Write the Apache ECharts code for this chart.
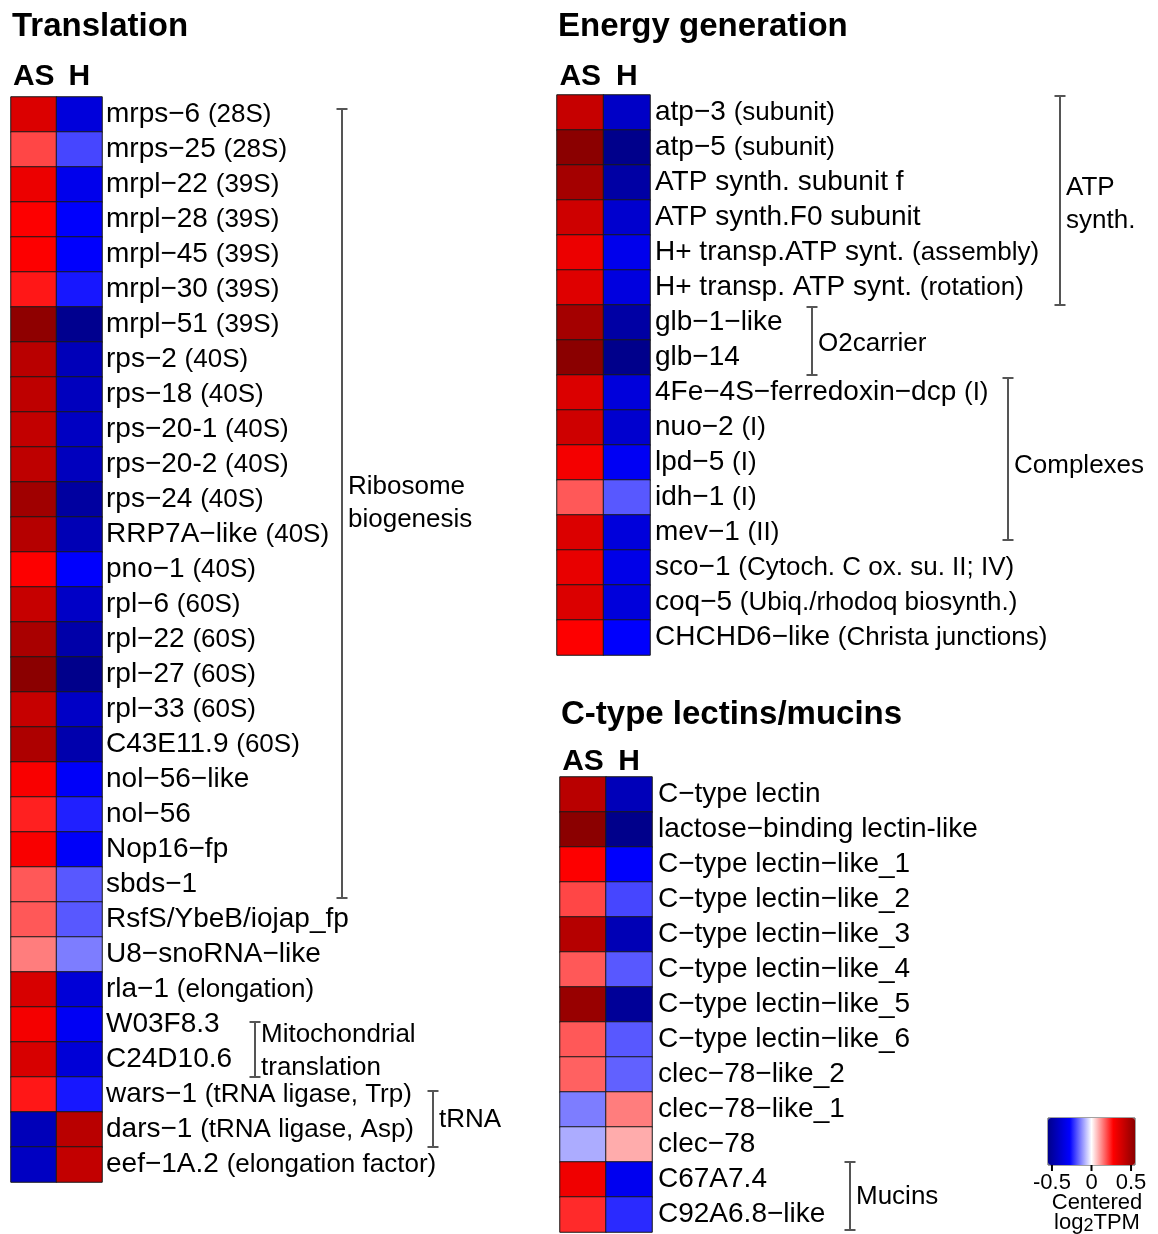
<!DOCTYPE html>
<html>
<head>
<meta charset="utf-8">
<script src="https://cdn.jsdelivr.net/npm/echarts@6/dist/echarts.min.js"></script>
<style>
  html, body { margin: 0; padding: 0; background: #fff; }
  #main { width: 1158px; height: 1234px; }
</style>
</head>
<body>
<div id="main"></div>
<script>
// columns of every heatmap
var samples = ['AS', 'H'];

// Translation
var transGenes = ['mrps\u22126 (28S)', 'mrps\u221225 (28S)', 'mrpl\u221222 (39S)', 'mrpl\u221228 (39S)', 'mrpl\u221245 (39S)',
	'mrpl\u221230 (39S)', 'mrpl\u221251 (39S)', 'rps\u22122 (40S)', 'rps\u221218 (40S)', 'rps\u221220-1 (40S)',
	'rps\u221220-2 (40S)', 'rps\u221224 (40S)', 'RRP7A\u2212like (40S)', 'pno\u22121 (40S)', 'rpl\u22126 (60S)',
	'rpl\u221222 (60S)', 'rpl\u221227 (60S)', 'rpl\u221233 (60S)', 'C43E11.9 (60S)', 'nol\u221256\u2212like',
	'nol\u221256', 'Nop16\u2212fp', 'sbds\u22121', 'RsfS/YbeB/iojap_fp', 'U8\u2212snoRNA\u2212like',
	'rla\u22121 (elongation)', 'W03F8.3', 'C24D10.6', 'wars\u22121 (tRNA ligase, Trp)', 'dars\u22121 (tRNA ligase, Asp)',
	'eef\u22121A.2 (elongation factor)'];
var transAS = [0.36, 0.20, 0.32, 0.28, 0.28, 0.25, 0.54, 0.44, 0.43, 0.42,
	0.43, 0.50, 0.45, 0.28, 0.41, 0.48, 0.55, 0.41, 0.47, 0.29,
	0.24, 0.29, 0.18, 0.18, 0.14, 0.37, 0.30, 0.37, 0.25, -0.44, -0.42];
var transH = [-0.36, -0.20, -0.32, -0.28, -0.28, -0.25, -0.54, -0.44, -0.43, -0.42,
	-0.43, -0.50, -0.45, -0.28, -0.41, -0.48, -0.55, -0.41, -0.47, -0.29,
	-0.24, -0.29, -0.18, -0.18, -0.14, -0.37, -0.30, -0.37, -0.25, 0.44, 0.42];

// Energy generation
var energyGenes = ['atp\u22123 (subunit)', 'atp\u22125 (subunit)', 'ATP synth. subunit f', 'ATP synth.F0 subunit',
	'H+ transp.ATP synt. (assembly)', 'H+ transp. ATP synt. (rotation)', 'glb\u22121\u2212like', 'glb\u221214',
	'4Fe\u22124S\u2212ferredoxin\u2212dcp (I)', 'nuo\u22122 (I)', 'lpd\u22125 (I)', 'idh\u22121 (I)', 'mev\u22121 (II)',
	'sco\u22121 (Cytoch. C ox. su. II; IV)', 'coq\u22125 (Ubiq./rhodoq biosynth.)', 'CHCHD6\u2212like (Christa junctions)'];
var energyAS = [0.41, 0.55, 0.49, 0.39, 0.32, 0.35, 0.49, 0.55, 0.36, 0.39, 0.30, 0.18, 0.36, 0.33, 0.36, 0.28];
var energyH = [-0.41, -0.55, -0.49, -0.39, -0.32, -0.35, -0.49, -0.55, -0.36, -0.39, -0.30, -0.18, -0.36, -0.33, -0.36, -0.28];

// C-type lectins/mucins
var lectinGenes = ['C\u2212type lectin', 'lactose\u2212binding lectin-like', 'C\u2212type lectin\u2212like_1',
	'C\u2212type lectin\u2212like_2', 'C\u2212type lectin\u2212like_3', 'C\u2212type lectin\u2212like_4',
	'C\u2212type lectin\u2212like_5', 'C\u2212type lectin\u2212like_6', 'clec\u221278\u2212like_2',
	'clec\u221278\u2212like_1', 'clec\u221278', 'C67A7.4', 'C92A6.8\u2212like'];
var lectinAS = [0.44, 0.55, 0.28, 0.20, 0.45, 0.18, 0.52, 0.18, 0.17, -0.14, -0.09, 0.31, 0.23];
var lectinH = [-0.44, -0.55, -0.28, -0.20, -0.45, -0.18, -0.52, -0.18, -0.17, 0.14, 0.09, -0.31, -0.23];

// gene groups: panel, first row, last row, label
var groups = [
	{ panel: 0, from: 0, to: 22, label: 'Ribosome\nbiogenesis', x: 342, padTop: 12, padBottom: 4, dy: 0 },
	{ panel: 0, from: 26, to: 27, label: 'Mitochondrial\ntranslation', x: 255, padTop: 15, padBottom: 0, dy: 2 },
	{ panel: 0, from: 28, to: 29, label: 'tRNA', x: 433, padTop: 14, padBottom: 0, dy: 1 },
	{ panel: 1, from: 0, to: 5, label: 'ATP\nsynth.', x: 1060, padTop: 1, padBottom: 0, dy: 4 },
	{ panel: 1, from: 6, to: 7, label: 'O2carrier', x: 812, padTop: 2, padBottom: 0, dy: 3 },
	{ panel: 1, from: 8, to: 12, label: 'Complexes', x: 1008, padTop: 3, padBottom: 10, dy: 7 },
	{ panel: 2, from: 11, to: 12, label: 'Mucins', x: 850, padTop: 0, padBottom: 2, dy: 1 }
];

var titles = ['Translation', 'Energy generation', 'C-type lectins/mucins'];
var scaleMin = -0.55, scaleMax = 0.55;
var legendTicks = [-0.5, 0, 0.5];
var rampColors = ['#00008b', '#0000ff', '#ffffff', '#ff0000', '#8b0000'];

var panels = [
	{ genes: transGenes, as: transAS, h: transH, left: 11, top: 97, width: 91, rowH: 35, titleX: 12, titleY: 10, headMargin: 5, labelMargin: 4 },
	{ genes: energyGenes, as: energyAS, h: energyH, left: 557, top: 95, width: 93, rowH: 35, titleX: 558, titleY: 10, headMargin: 3, labelMargin: 5 },
	{ genes: lectinGenes, as: lectinAS, h: lectinH, left: 560, top: 777, width: 92, rowH: 35, titleX: 561, titleY: 698, headMargin: 0, labelMargin: 6 }
];

function geneLabel(v) {
	var i = v.indexOf(' (');
	if (i < 0) return '{m|' + v + '}';
	return '{m|' + v.slice(0, i) + '} {p|' + v.slice(i + 1) + '}';
}

var myChart = echarts.init(document.getElementById('main'), null, { renderer: 'canvas' });

var grids = [], xAxes = [], yAxes = [], series = [], title = [];
panels.forEach(function (p, k) {
	grids.push({ left: p.left, top: p.top, width: p.width, height: p.rowH * p.genes.length, containLabel: false });
	title.push({
		text: titles[k], left: p.titleX, top: p.titleY, padding: 0,
		textStyle: { fontFamily: 'Liberation Sans', fontWeight: 'bold', fontSize: 33, color: '#000' }
	});
	xAxes.push({
		type: 'category', gridIndex: k, data: samples, position: 'top',
		axisLine: { show: false }, axisTick: { show: false }, splitLine: { show: false },
		axisLabel: { interval: 0, margin: p.headMargin, fontFamily: 'Liberation Sans', fontWeight: 'bold', fontSize: 30, color: '#000' }
	});
	yAxes.push({
		type: 'category', gridIndex: k, data: p.genes, position: 'right', inverse: true,
		axisLine: { show: false }, axisTick: { show: false }, splitLine: { show: false },
		axisLabel: {
			interval: 0, margin: p.labelMargin, fontFamily: 'Liberation Sans', fontSize: 28, color: '#000',
			formatter: geneLabel,
			rich: {
				m: { fontFamily: 'Liberation Sans', fontSize: 28, color: '#000' },
				p: { fontFamily: 'Liberation Sans', fontSize: 26, color: '#000' }
			}
		}
	});
	var data = [];
	p.genes.forEach(function (g, i) {
		data.push([0, i, p.as[i]]);
		data.push([1, i, p.h[i]]);
	});
	series.push({
		type: 'heatmap', xAxisIndex: k, yAxisIndex: k, data: data,
		itemStyle: { borderColor: '#1a1a1a', borderWidth: 1 },
		emphasis: { disabled: true }, silent: true
	});
});

// colour key geometry
var keyLeft = 1048, keyTop = 1118, keyLen = 87, keyThick = 47;

var option = {
	animation: false,
	backgroundColor: '#fff',
	title: title,
	grid: grids,
	xAxis: xAxes,
	yAxis: yAxes,
	visualMap: {
		type: 'continuous', min: scaleMin, max: scaleMax, seriesIndex: [0, 1, 2],
		orient: 'horizontal', left: keyLeft, top: keyTop, padding: 0,
		itemWidth: keyThick, itemHeight: keyLen, calculable: false, text: null, showLabel: false,
		inRange: { color: rampColors }
	},
	series: series
};
myChart.setOption(option);

// brackets and colour key decorations
var g = [];
groups.forEach(function (b) {
	var c0 = myChart.convertToPixel({ yAxisIndex: b.panel }, b.from);
	var c1 = myChart.convertToPixel({ yAxisIndex: b.panel }, b.to);
	var band = panels[b.panel].rowH;
	var y0 = c0 - band / 2 + b.padTop;
	var y1 = c1 + band / 2 - b.padBottom;
	var st = { stroke: '#555', lineWidth: 2 };
	g.push({ type: 'line', shape: { x1: b.x, y1: y0, x2: b.x, y2: y1 }, style: st, silent: true });
	g.push({ type: 'line', shape: { x1: b.x - 5.5, y1: y0, x2: b.x + 5.5, y2: y0 }, style: st, silent: true });
	g.push({ type: 'line', shape: { x1: b.x - 5.5, y1: y1, x2: b.x + 5.5, y2: y1 }, style: st, silent: true });
	g.push({
		type: 'text', x: b.x + 6, y: (y0 + y1) / 2 + b.dy, silent: true,
		style: { text: b.label, fill: '#000', font: '26px "Liberation Sans"', lineHeight: 33, verticalAlign: 'middle', align: 'left' }
	});
});

g.push({ type: 'rect', shape: { x: keyLeft, y: keyTop, width: keyLen, height: keyThick }, style: { fill: null, stroke: '#444', lineWidth: 1 }, silent: true });
legendTicks.forEach(function (t) {
	var x = keyLeft + (t - scaleMin) / (scaleMax - scaleMin) * keyLen;
	g.push({ type: 'line', shape: { x1: x, y1: keyTop + keyThick, x2: x, y2: keyTop + keyThick + 6 }, style: { stroke: '#000', lineWidth: 2 }, silent: true });
	g.push({
		type: 'text', x: x, y: 1183, silent: true,
		style: { text: String(t), fill: '#000', font: '22px "Liberation Sans"', align: 'center', verticalAlign: 'middle' }
	});
});
g.push({ type: 'text', x: 1097, y: 1203, silent: true, style: { text: 'Centered', fill: '#000', font: '22px "Liberation Sans"', align: 'center', verticalAlign: 'middle' } });
g.push({
	type: 'text', x: 1097, y: 1223, silent: true,
	style: {
		text: '{a|log}{s|2}{a|TPM}', align: 'center', verticalAlign: 'middle',
		rich: {
			a: { font: '22px "Liberation Sans"', fill: '#000' },
			s: { font: '18px "Liberation Sans"', fill: '#000', padding: [6, 0, 0, 0] }
		}
	}
});

myChart.setOption({ graphic: g });
</script>
</body>
</html>
